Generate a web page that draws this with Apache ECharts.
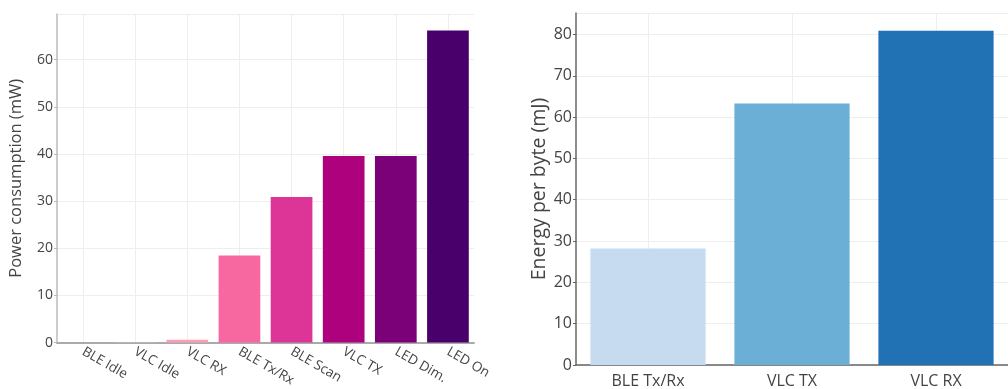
<!DOCTYPE html>
<html>
<head>
<meta charset="utf-8">
<script src="https://cdn.jsdelivr.net/npm/echarts@6/dist/echarts.min.js"></script>
<style>
html,body{margin:0;padding:0;background:#fff;}
#chart{width:1008px;height:389px;}
</style>
</head>
<body>
<div id="chart"></div>
<script>
// left: power consumption per state
var powerCats = ['BLE Idle', 'VLC Idle', 'VLC RX', 'BLE Tx/Rx', 'BLE Scan', 'VLC TX', 'LED Dim.', 'LED On'];
var powerVals = [0.05, 0.1, 0.6, 18.5, 30.9, 39.6, 39.6, 66.2];
var powerColors = ['#fde0dd', '#fcc5c0', '#fa9fb5', '#f768a1', '#dd3497', '#ae017e', '#7a0177', '#49006a'];

// right: energy per byte
var energyCats = ['BLE Tx/Rx', 'VLC TX', 'VLC RX'];
var energyVals = [28.2, 63.3, 80.9];
var energyColors = ['#c6dbef', '#6baed6', '#2171b5'];

var font = '"Open Sans", "Noto Sans", sans-serif';
var chart = echarts.init(document.getElementById('chart'), null, {renderer: 'canvas'});

function tens(v){ return v % 10 === 0 ? String(v) : ''; }

chart.setOption({
    animation: false,
    textStyle: {fontFamily: font},
    grid: [
        {left: 57, top: 14, width: 417, height: 331},
        {left: 576, top: 13, width: 444, height: 356}
    ],
    xAxis: [
        {
            type: 'category', gridIndex: 0, data: powerCats,
            axisLine: {lineStyle: {color: '#aaa', width: 2}},
            axisTick: {show: false},
            axisLabel: {rotate: -30, margin: 8, color: '#444', fontSize: 13.5, fontFamily: font, interval: 0},
            splitLine: {show: true, alignWithLabel: true, lineStyle: {color: '#eee'}}
        },
        {
            type: 'category', gridIndex: 1, data: energyCats,
            axisLine: {lineStyle: {color: '#666', width: 1.5}},
            axisTick: {show: false},
            axisLabel: {margin: 8, color: '#444', fontSize: 16, fontFamily: font, interval: 0},
            splitLine: {show: true, alignWithLabel: true, lineStyle: {color: '#eee'}}
        }
    ],
    yAxis: [
        {
            type: 'value', gridIndex: 0, min: 0, max: 69.7, interval: 10,
            name: 'Power consumption (mW)', nameLocation: 'middle', nameGap: 32,
            nameTextStyle: {color: '#444', fontSize: 16.5, fontFamily: font},
            axisLine: {show: true, lineStyle: {color: '#bbb', width: 1.5}},
            axisTick: {show: true, length: 3, lineStyle: {color: '#bbb'}},
            axisLabel: {color: '#444', fontSize: 14, margin: 4, fontFamily: font, formatter: tens, showMaxLabel: false},
            splitLine: {lineStyle: {color: '#eee'}}
        },
        {
            type: 'value', gridIndex: 1, min: 0, max: 85.2, interval: 10,
            name: 'Energy per byte (mJ)', nameLocation: 'middle', nameGap: 26,
            nameTextStyle: {color: '#444', fontSize: 19.5, fontFamily: font},
            axisLine: {show: true, lineStyle: {color: '#666', width: 1.5}},
            axisTick: {show: true, length: 3, lineStyle: {color: '#666'}},
            axisLabel: {color: '#444', fontSize: 16, margin: 4, fontFamily: font, formatter: tens, showMaxLabel: false},
            splitLine: {lineStyle: {color: '#eee'}}
        }
    ],
    series: [
        {
            type: 'bar', xAxisIndex: 0, yAxisIndex: 0, barCategoryGap: '20%',
            data: powerVals.map(function(v, i){ return {value: v, itemStyle: {color: powerColors[i]}}; })
        },
        {
            type: 'bar', xAxisIndex: 1, yAxisIndex: 1, barCategoryGap: '20%',
            data: energyVals.map(function(v, i){ return {value: v, itemStyle: {color: energyColors[i]}}; })
        }
    ]
});
</script>
</body>
</html>
